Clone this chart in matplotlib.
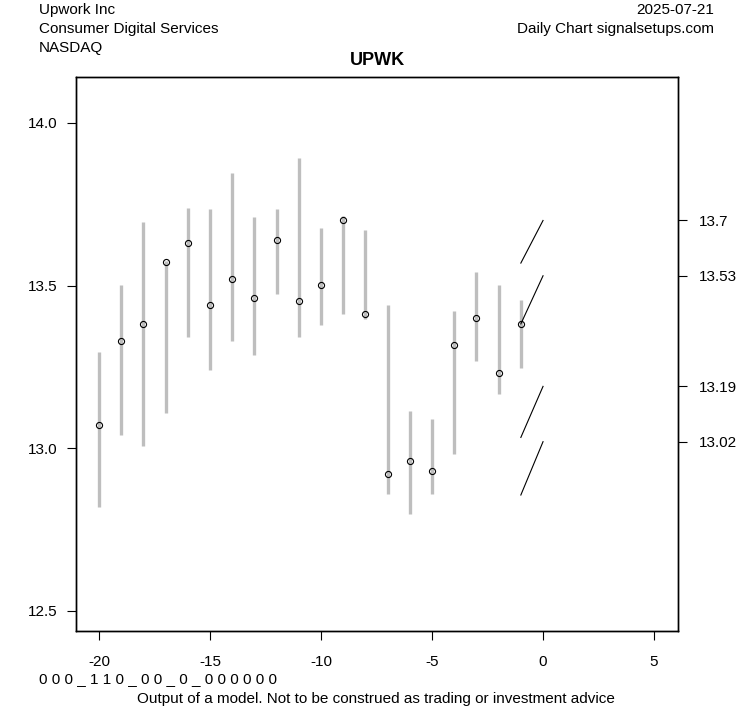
import matplotlib
matplotlib.use("Agg")
import matplotlib.pyplot as plt

plt.rcParams['font.family'] = ['Liberation Sans', 'DejaVu Sans']

# daily bars, days relative to latest
days = [-20, -19, -18, -17, -16, -15, -14, -13, -12, -11,
        -10, -9, -8, -7, -6, -5, -4, -3, -2, -1]
highs = [13.297, 13.503, 13.694, 13.575, 13.737, 13.734, 13.847, 13.712, 13.734, 13.893,
         13.678, 13.714, 13.672, 13.440, 13.113, 13.089, 13.423, 13.543, 13.503, 13.454]
lows = [12.820, 13.039, 13.008, 13.109, 13.342, 13.239, 13.328, 13.287, 13.474, 13.342,
        13.380, 13.411, 13.397, 12.860, 12.799, 12.860, 12.982, 13.268, 13.167, 13.247]
closes = [13.071, 13.329, 13.381, 13.573, 13.630, 13.440, 13.519, 13.462, 13.639, 13.452,
          13.501, 13.701, 13.412, 12.920, 12.960, 12.929, 13.317, 13.400, 13.231, 13.382]

# projected levels
proj_start = [13.569, 13.382, 13.033, 12.856]
proj_end = [13.70, 13.53, 13.19, 13.02]
proj_labels = ["13.7", "13.53", "13.19", "13.02"]

signal_code = "0 0 0 _ 1 1 0 _ 0 0 _ 0 _ 0 0 0 0 0 0"

fig = plt.figure(figsize=(7.53, 7.08), dpi=100)
ax = fig.add_axes([76 / 753, 1 - 631 / 708, (678 - 76) / 753, (631 - 77) / 708])

ax.vlines(days, lows, highs, color='#bebebe', linewidth=2.4)
ax.plot(days, closes, linestyle='', marker='o', markersize=4.4,
        fillstyle='none', markeredgecolor='black', markeredgewidth=0.8)

for s, e in zip(proj_start, proj_end):
    ax.plot([-1, 0], [s, e], color='black', linewidth=0.8)

ax.set_xlim(-21.04, 6.08)
ax.set_ylim(12.438, 14.141)
ax.set_xticks([-20, -15, -10, -5, 0, 5])
ax.set_xticklabels(['-20', '-15', '-10', '-5', '0', '5'])
ax.set_yticks([12.5, 13.0, 13.5, 14.0])
ax.set_yticklabels(['12.5', '13.0', '13.5', '14.0'])
ax.tick_params(axis='y', direction='out', length=6.5, labelsize=11, pad=7)
ax.tick_params(axis='x', direction='out', length=6.5, labelsize=11, pad=10.5)

ax2 = ax.twinx()
ax2.set_ylim(ax.get_ylim())
ax2.set_yticks(proj_end)
ax2.set_yticklabels(proj_labels)
ax2.tick_params(direction='out', length=6.5, labelsize=11, pad=8.6)

for a in (ax, ax2):
    for sp in a.spines.values():
        sp.set_linewidth(1)

fig.text(377 / 753, 1 - 60.5 / 708, 'UPWK', fontsize=13, fontweight='bold', va='center', ha='center')

fig.text(39 / 753, 1 - 10 / 708, 'Upwork Inc', fontsize=11, va='center', ha='left')
fig.text(39 / 753, 1 - 29 / 708, 'Consumer Digital Services', fontsize=11, va='center', ha='left')
fig.text(39 / 753, 1 - 48 / 708, 'NASDAQ', fontsize=11, va='center', ha='left')
fig.text(714 / 753, 1 - 10 / 708, '2025-07-21', fontsize=11, va='center', ha='right')
fig.text(714 / 753, 1 - 29 / 708, 'Daily Chart signalsetups.com', fontsize=11, va='center', ha='right')
fig.text(39 / 753, 1 - 679 / 708, signal_code, fontsize=11, va='center', ha='left')
fig.text(376 / 753, 1 - 699 / 708, 'Output of a model. Not to be construed as trading or investment advice',
         fontsize=11, va='center', ha='center')

fig.savefig('out.png', dpi=100)
